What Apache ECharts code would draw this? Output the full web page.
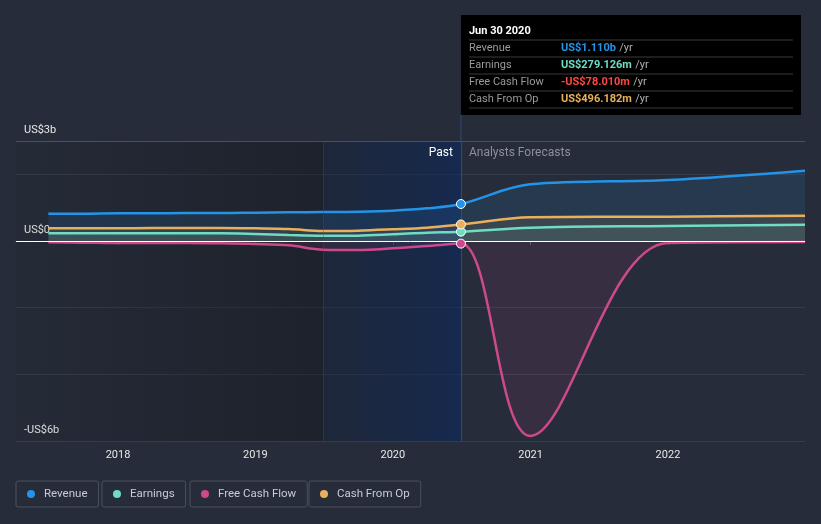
<!DOCTYPE html>
<html><head><meta charset="utf-8">
<script src="https://cdn.jsdelivr.net/npm/echarts@6/dist/echarts.min.js"></script>
<style>html,body{margin:0;padding:0;background:#262c39;}#c{width:821px;height:524px;}</style>
</head><body><div id="c"></div>
<script>
// ---------- DATA ----------
const dates = ['2017-06-30','2017-09-30','2017-12-31','2018-03-31','2018-06-30','2018-09-30','2018-12-31','2019-03-31','2019-06-30','2019-09-30','2019-12-31','2020-03-31','2020-06-30','2020-12-31','2021-12-31','2022-12-31'];
const revenue  = [0.82,0.82,0.83,0.83,0.84,0.84,0.85,0.86,0.87,0.88,0.91,0.98,1.110,1.70,1.83,2.11];
const earnings = [0.23,0.23,0.23,0.23,0.23,0.23,0.21,0.18,0.16,0.16,0.20,0.25,0.279,0.40,0.45,0.49];
const fcf      = [-0.04,-0.05,-0.06,-0.06,-0.06,-0.07,-0.09,-0.13,-0.26,-0.27,-0.22,-0.15,-0.078,-5.85,-0.06,-0.03];
const cfo      = [0.38,0.38,0.38,0.39,0.39,0.39,0.38,0.36,0.30,0.31,0.35,0.40,0.496,0.71,0.73,0.76];
const seriesNames = ['Revenue','Earnings','Free Cash Flow','Cash From Op'];
const yTickLabels = {'3':'US$3b','0':'US$0','-6':'-US$6b'};
const pastStart = '2019-06-30';
const splitDate = '2020-06-30';
const tooltipTitle = 'Jun 30 2020';
const tooltipValues = ['US$1.110b','US$279.126m','-US$78.010m','US$496.182m'];
const pastLabel = 'Past', forecastLabel = 'Analysts Forecasts';

// ---------- STYLE ----------
const colors = ['#2394e8','#6fdcc4','#cc4a8c','#e9b05c'];
const valueColors = ['#2394e8','#6fdcc4','#ff4646','#e9b05c'];
const areaOpacity = [0.13,0.10,0.11,0.10];
const legendLefts = [16,102,190,309];
const FONT = 'Roboto, sans-serif';
const focusIdx = dates.indexOf(splitDate);

const chart = echarts.init(document.getElementById('c'), null, {renderer:'canvas'});
const valsList = [revenue, earnings, fcf, cfo];

const series = valsList.map((vals, si) => ({
  name: seriesNames[si],
  type: 'line',
  smooth: 0.35,
  symbol: 'none',
  showSymbol: false,
  color: colors[si],
  lineStyle: {width: 2.5, color: colors[si]},
  areaStyle: {color: colors[si], opacity: areaOpacity[si]},
  z: 3,
  data: vals.map((v, i) => [dates[i], v]),
  markPoint: {
    silent: true, symbol: 'circle', symbolSize: 9, label: {show: false},
    itemStyle: {color: colors[si], borderColor: '#ffffff', borderWidth: 1},
    data: [{coord: [dates[focusIdx], vals[focusIdx]]}]
  }
}));

// helper series carrying the background regions and reference lines (drawn underneath)
series.unshift({
  name: '_bg', type: 'line', data: [], z: 1, silent: true,
  markArea: {
    silent: true,
    data: [
      [{xAxis: '2017-04-05', itemStyle: {color: {type:'linear',x:0,y:0,x2:1,y2:0,colorStops:[{offset:0,color:'rgba(10,12,16,0.05)'},{offset:1,color:'rgba(10,12,16,0.32)'}]}}}, {xAxis: pastStart}],
      [{xAxis: pastStart, itemStyle: {color: {type:'linear',x:0,y:0,x2:1,y2:0,colorStops:[{offset:0,color:'rgba(12,30,60,0.30)'},{offset:1,color:'rgba(10,40,95,0.60)'}]}}}, {xAxis: splitDate}]
    ]
  },
  markLine: {
    silent: true, symbol: 'none', label: {show: false},
    data: [
      {yAxis: 3, lineStyle: {color: '#4a505c', width: 1, type: 'solid'}},
      {xAxis: splitDate, lineStyle: {color: '#2f4c75', width: 1, type: 'solid'}},
      {xAxis: pastStart, lineStyle: {color: 'rgba(60,80,110,0.35)', width: 1, type: 'solid'}}
    ]
  }
});
series.push({
  name: '_zero', type: 'line', data: [], z: 2.5, silent: true,
  markLine: {silent: true, symbol: 'none', label: {show: false},
    data: [{yAxis: 0, lineStyle: {color: '#ffffff', width: 1, type: 'solid'}}]}
});

const option = {
  animation: false,
  backgroundColor: '#262c39',
  textStyle: {fontFamily: FONT},
  grid: {left: 16, right: 16, top: 141, bottom: 83},
  xAxis: {
    type: 'time',
    min: '2017-04-05', max: '2022-12-31',
    minInterval: 365*24*3600*1000,
    splitNumber: 6,
    axisLine: {lineStyle: {color: '#5d6370', width: 1}},
    axisTick: {show: true, length: 4, lineStyle: {color: '#5d6370'}},
    splitLine: {show: false},
    axisLabel: {
      color: '#e8e8e8', fontSize: 11, fontFamily: FONT, margin: 9,
      showMinLabel: false, showMaxLabel: false,
      formatter: function (val) {
        const d = new Date(val);
        return (d.getMonth() === 0 && d.getDate() === 1) ? String(d.getFullYear()) : '';
      }
    }
  },
  yAxis: {
    type: 'value', min: -6, max: 3, interval: 2,
    axisLine: {show: false}, axisTick: {show: false},
    splitLine: {lineStyle: {color: '#363c49', width: 1}},
    axisLabel: {
      inside: true, margin: 8, color: '#e8e8e8', fontSize: 11, fontFamily: FONT,
      verticalAlign: 'bottom', padding: [0,0,5,0],
      formatter: v => (yTickLabels[String(v)] !== undefined ? yTickLabels[String(v)] : '')
    }
  },
  legend: seriesNames.map((n, i) => ({
    data: [n], left: legendLefts[i], top: 481,
    icon: 'circle', itemWidth: 8, itemHeight: 8,
    padding: [7, 11, 7, 11],
    borderColor: '#4a505d', borderWidth: 1, borderRadius: 2,
    selectedMode: false,
    textStyle: {color: '#c9ccd2', fontSize: 11.5, fontFamily: FONT, padding: [0,0,0,4]}
  })),
  series: series
};
chart.setOption(option);

// ---------- overlay texts bound to the split date pixel ----------
const sx = chart.convertToPixel({xAxisIndex: 0}, +new Date(splitDate));
const rowYs = [48, 65, 82, 99];
const sepYs = [40, 57, 74, 91, 108];
const g = [];
g.push({type:'line', shape:{x1:sx, y1:115, x2:sx, y2:141}, style:{stroke:'#2f4c75', lineWidth:1}, silent:true});
g.push({type:'text', x: sx - 8, y: 153, style:{text: pastLabel, fill:'#ffffff', font:'12px '+FONT, align:'right', verticalAlign:'middle'}});
g.push({type:'text', x: sx + 8, y: 153, style:{text: forecastLabel, fill:'#8b909a', font:'12px '+FONT, align:'left', verticalAlign:'middle'}});
g.push({type:'rect', shape:{x: sx, y: 15, width: 340, height: 100}, style:{fill:'#000000'}});
g.push({type:'text', x: sx + 8, y: 31, style:{text: tooltipTitle, fill:'#ffffff', font:'bold 11px '+FONT, verticalAlign:'middle'}});
sepYs.forEach(y => g.push({type:'line', shape:{x1: sx+8, y1: y, x2: sx+332, y2: y}, style:{stroke:'#3a3a3a', lineWidth:1}}));
seriesNames.forEach((n, i) => {
  g.push({type:'text', x: sx + 8, y: rowYs[i], style:{text: n, fill:'#9a9a9a', font:'11px '+FONT, verticalAlign:'middle'}});
  g.push({type:'text', x: sx + 100, y: rowYs[i], style:{
    text: '{v|' + tooltipValues[i] + '} {u|/yr}', verticalAlign:'middle',
    rich: {v: {fill: valueColors[i], fontWeight: 'bold', fontSize: 11, fontFamily: FONT},
           u: {fill: '#b0b0b0', fontSize: 11, fontFamily: FONT}}
  }});
});
chart.setOption({graphic: g.map(e => Object.assign({z: 100}, e))});
</script></body></html>
